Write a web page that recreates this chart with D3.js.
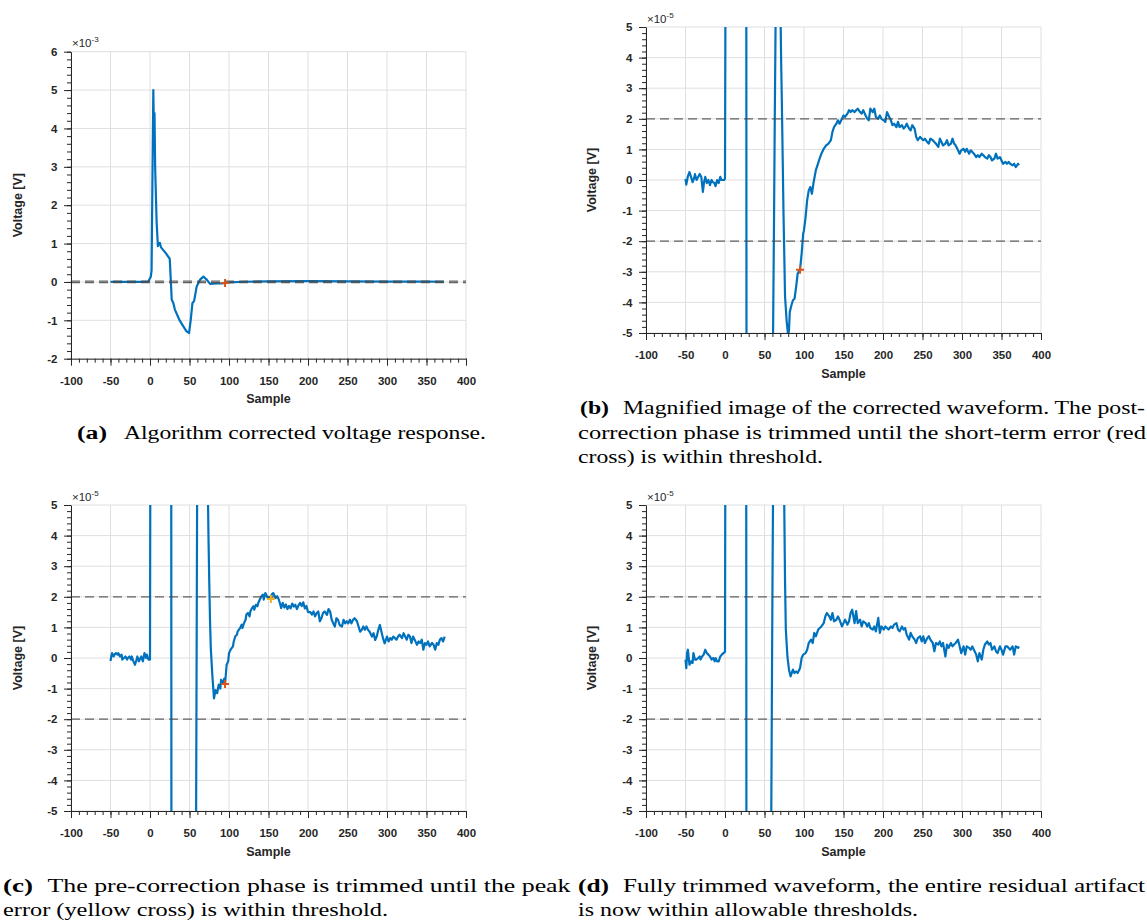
<!DOCTYPE html>
<html><head><meta charset="utf-8">
<script src="https://cdn.jsdelivr.net/npm/d3@7"></script>
<style>
html,body{margin:0;padding:0;background:#fff;}
svg{display:block;}
</style></head><body>
<svg id="chart" width="1147" height="921"></svg>
<script>
// ---------------- DATA ----------------
const xTicks = [-100,-50,0,50,100,150,200,250,300,350,400];
const yTicksA = [-2,-1,0,1,2,3,4,5,6];          // x 1e-3 V
const yTicksB = [-5,-4,-3,-2,-1,0,1,2,3,4,5];   // x 1e-5 V
const thresholdA = [-0.02, 0.02];               // x 1e-3 V
const thresholdB = [-2, 2];                     // x 1e-5 V

// (a) corrected voltage response, units 1e-3 V
const waveA = [[-50,0],[-40,0],[-30,0],[-20,0],[-10,0],[-2,0.01],[0,0.1],[1,0.13],[2,0.3],[3,2.5],[4.2,5.0],[5,3.9],[5.7,4.4],[6.5,3.0],[8.4,1.55],[10,0.93],[11,1.0],[12.5,1.02],[14,0.9],[16,0.85],[20,0.75],[25,0.6],[27.5,-0.46],[29.5,-0.55],[31.5,-0.72],[37,-0.98],[42,-1.15],[46,-1.28],[49.5,-1.33],[51.6,-0.98],[53.7,-0.55],[55.8,-0.5],[59.2,-0.11],[63.4,0.06],[67.6,0.14],[71.8,0.06],[76,-0.05],[84,-0.04],[90,-0.04],[95,-0.03],[100,-0.01],[120,0.005],[150,0.015],[200,0.02],[250,0.015],[300,0.01],[350,0.008],[372,0.005]];
const crossA = [95, -0.0293];

// (b) magnified corrected waveform, units 1e-5 V
const waveB = [[-50,0.04],[-49,-0.15],[-47,0.12],[-45,0.26],[-43,0.1],[-41,-0.07],[-39,0.07],[-38,0.19],[-36,0],[-34,0.1],[-32,0.2],[-30,0.1],[-28,-0.39],[-26.5,-0.07],[-25,0.1],[-23,-0.1],[-21,0],[-19,-0.17],[-17,0],[-15.5,-0.07],[-13.5,-0.1],[-12,-0.2],[-10,0],[-8,-0.1],[-6,0.1],[-4.5,0],[-2.5,0],[-1,0],[0,0.05],
 [1,10],[3,250],[4,500],[5,390],[6,440],[8,155],[10,93],[12,102],[14,90],[16,85],[20,75],[25,62],[26,58],[28,-48],[30,-57],[32,-72],[37,-98],[42,-115],[46,-128],[49.5,-133],[52,-98],[54,-55],[56,-50],[58,-25],[60,-8],[61,-4.5],[62,-1.5],[63,2],[64,5],[66,9],[68,10],[70,6],[71,4],[72,2.5],[74,-1],[76,-3.8],[78,-4.6],[80,-5.1],[81,-4.9],
 [82,-4.31],[84,-4.1],[86,-3.93],[88,-3.88],[90,-3.5],[92,-3.06],[95,-2.93],[97,-2.41],[99,-1.75],[100,-1.64],[102,-1.21],[104,-0.66],[106,-0.34],[108,-0.23],[110,-0.45],[112,-0.1],[115,0.32],[117,0.48],[119,0.64],[122,0.86],[125,1.02],[128,1.13],[131,1.19],[134,1.3],[136,1.57],[138,1.73],[141,1.84],[143,1.95],[145,1.84],[148,2.0],[150,2.11],[152,2.06],[155,2.17],[157,2.28],[159,2.22],[161,2.28],[164,2.22],[166,2.28],[168,2.33],[171,2.22],[173,2.17],[175,2.28],[178,2.11],[180,2.0],[182,1.95],[184,2.33],[187,2.22],[189,2.33],[191,2.06],[194,2.0],[196,2.11],[198,2.0],[201,1.95],[203,1.9],[205,2.22],[207,2.11],[210,1.95],[212,1.79],[214,1.84],[217,1.73],[219,1.9],[221,1.73],[224,1.79],[226,1.68],[228,1.73],[230,1.84],[233,1.68],[235,1.62],[237,1.79],[240,1.68],[242,1.41],[244,1.3],[247,1.41],[249,1.35],[251,1.3],[253,1.35],[256,1.24],[258,1.19],[260,1.35],[263,1.3],[265,1.24],[267,1.19],[270,1.08],[272,1.35],[274,1.24],[276,1.13],[279,1.19],[281,1.3],[283,1.13],[286,1.19],[288,1.35],[290,1.19],[292,1.13],[295,0.97],[297,0.86],[299,0.97],[302,1.02],[304,0.92],[306,1.02],[309,0.86],[311,0.97],[313,0.92],[315,0.86],[318,0.75],[320,0.81],[322,0.75],[325,0.86],[327,0.81],[329,0.75],[332,0.7],[334,0.81],[336,0.75],[338,0.64],[341,0.7],[343,0.86],[345,0.7],[348,0.75],[350,0.64],[352,0.53],[355,0.59],[357,0.53],[359,0.59],[361,0.53],[364,0.48],[366,0.53],[368,0.42],[371,0.53],[372,0.48]];
const crossB = [95, -2.93];

// (c) pre-correction trimmed, units 1e-5 V
const waveC = [[-50,-0.1],[-49,0.05],[-48,0.16],[-46,0.05],[-45,0.11],[-43,0.16],[-41,0.11],[-40,0.16],[-38,0.05],[-36,0.11],[-35,-0.05],[-33,0],[-31,0.05],[-29,-0.05],[-28,0],[-26,0.05],[-24,-0.05],[-23,0.05],[-21,-0.11],[-19,-0.22],[-17,-0.05],[-16,0.05],[-14,-0.11],[-12,0],[-11,0.05],[-9,-0.11],[-7,0.16],[-5,0],[-4,0.11],[-2,-0.05],[0,-0.05],
 [1,15],[3,250],[4,500],[5,390],[6,440],[8,155],[10,93],[14,90],[20,75],[26,60],[28,-60],[37,-98],[49.5,-133],[54,-55],[57,-20],[58,-8],[59,0],[60,8],[62,14],[66,16],[70,12],[73,6],[74,4],[75,2.5],[76,1.2],[77,0.3],[79,-0.6],
 [81,-1.32],[83,-1.05],[85,-1.15],[87,-0.87],[89,-1.0],[90,-0.71],[92,-0.84],[94,-0.67],[95,-0.85],[97,-0.22],[99,-0.11],[100,0.16],[102,0.27],[105,0.38],[106,0.54],[108,0.71],[110,0.76],[111,0.87],[114,0.98],[116,1.09],[117,0.98],[119,1.14],[121,1.25],[122,1.42],[124,1.47],[126,1.36],[127,1.52],[129,1.63],[131,1.69],[132,1.58],[134,1.74],[136,1.69],[137,1.8],[139,1.91],[141,2.02],[143,2.07],[144,1.91],[146,2.12],[148,2.02],[149,1.96],[151,2.0],[153,1.93],[154,2.07],[156,2.12],[158,2.02],[159,1.96],[161,2.02],[163,1.91],[165,1.74],[166,1.63],[168,1.8],[170,1.65],[172,1.75],[174,1.6],[176,1.7],[178,1.62],[180,1.78],[182,1.68],[184,1.74],[186,1.6],[188,1.72],[190,1.8],[192,1.7],[194,1.82],[196,1.62],[198,1.7],[200,1.5],[203,1.5],[205,1.42],[207,1.52],[209,1.36],[211,1.47],[213,1.52],[215,1.2],[217,1.3],[219,1.47],[221,1.52],[224,1.41],[226,1.6],[228,1.52],[230,1.25],[232,1.13],[234,1.03],[236,1.3],[238,1.25],[240,1.08],[243,1.03],[245,1.25],[247,1.13],[249,1.2],[251,1.13],[253,1.25],[255,1.13],[257,1.25],[259,1.3],[262,1.2],[264,1.03],[266,0.86],[268,0.92],[270,1.03],[272,0.92],[274,1.03],[276,0.92],[278,0.86],[281,0.7],[283,0.81],[285,0.59],[287,0.7],[289,0.92],[291,1.08],[293,0.86],[295,0.64],[297,0.48],[300,0.7],[302,0.54],[304,0.65],[306,0.6],[308,0.7],[310,0.65],[312,0.6],[314,0.7],[316,0.76],[319,0.65],[321,0.81],[323,0.7],[325,0.6],[327,0.76],[329,0.7],[331,0.49],[333,0.7],[335,0.6],[338,0.43],[340,0.54],[342,0.49],[344,0.6],[346,0.27],[348,0.49],[350,0.43],[352,0.54],[354,0.38],[357,0.49],[359,0.43],[361,0.27],[363,0.49],[365,0.43],[367,0.6],[369,0.65],[371,0.54],[373,0.7]];
const crossC = [95, -0.85];
const peakCrossC = [153, 1.93];

// (d) fully trimmed waveform, units 1e-5 V
const waveD = [[-50,-0.05],[-49,-0.33],[-48,0.16],[-47,0.27],[-45,-0.22],[-43,-0.11],[-41,-0.16],[-40,0.16],[-38,-0.05],[-36,-0.05],[-34,0],[-32,0.05],[-31,-0.05],[-29,0.05],[-27,0.11],[-25,0.27],[-23,0.16],[-21,0.11],[-19,0.05],[-17,-0.05],[-15,0],[-13,-0.11],[-12,0],[-10,-0.11],[-8,-0.11],[-6,0.05],[-4,0.11],[-2,0.16],[0,0.2],
 [1,15],[3,250],[4,500],[5,390],[6,440],[8,155],[10,93],[14,90],[20,75],[26,55],[28,-55],[37,-98],[49.5,-133],[54,-55],[57,-30],[58,-8],[59,-3],[60,2],[61,6],[63,12],[70,14],[73,9],[74,7],[75,5],[76,2.5],[77,0.93],[79,0.05],
 [81,-0.38],[83,-0.6],[86,-0.38],[88,-0.49],[90,-0.44],[92,-0.49],[95,-0.33],[97,0],[99,0.11],[102,0.16],[104,0.27],[106,0.49],[109,0.6],[111,0.49],[113,0.82],[115,0.71],[118,0.93],[120,0.98],[122,1.03],[125,1.14],[127,1.36],[129,1.47],[132,1.36],[134,1.25],[136,1.47],[138,1.2],[141,1.25],[143,1.36],[145,1.25],[148,1.03],[150,1.14],[152,1.25],[155,1.09],[157,1.2],[159,1.47],[161,1.58],[164,1.14],[166,1.53],[168,1.14],[171,1.25],[173,1.03],[175,1.2],[178,1.14],[180,1.03],[182,1.14],[184,0.98],[187,0.93],[189,1.03],[191,0.87],[194,1.31],[196,0.82],[198,1.03],[201,0.93],[203,1.03],[205,0.98],[207,0.93],[210,1.03],[212,0.98],[214,1.09],[217,1.14],[219,0.93],[221,0.87],[224,1.03],[226,0.93],[228,0.98],[230,0.76],[233,0.6],[235,0.82],[237,0.71],[240,0.6],[242,0.49],[244,0.65],[247,0.71],[249,0.54],[251,0.71],[253,0.49],[256,0.65],[258,0.71],[260,0.6],[263,0.49],[265,0.22],[267,0.49],[270,0.44],[272,0.54],[274,0.38],[276,0.49],[279,0.05],[281,0.44],[283,0.33],[286,0.49],[288,0.38],[290,0.44],[292,0.49],[295,0.6],[297,0.38],[299,0.16],[302,0.38],[304,0.11],[306,0.38],[309,0.33],[311,0.27],[313,0.38],[315,0.27],[318,0.11],[320,-0.11],[322,0.16],[325,-0.05],[327,0.27],[329,0.44],[332,0.54],[334,0.44],[336,0.49],[338,0.27],[341,0.38],[343,0.22],[345,0.16],[348,0.38],[350,0.27],[352,0.11],[355,0.38],[357,0.38],[359,0.33],[361,0.27],[364,0.38],[366,0.11],[368,0.38],[371,0.33],[372,0.38]];

const captionA = ["(a)", "Algorithm corrected voltage response."];
const captionB = ["(b)", "Magnified image of the corrected waveform. The post-", "correction phase is trimmed until the short-term error (red", "cross) is within threshold."];
const captionC = ["(c)", "The pre-correction phase is trimmed until the peak", "error (yellow cross) is within threshold."];
const captionD = ["(d)", "Fully trimmed waveform, the entire residual artifact", "is now within allowable thresholds."];

// ---------------- DRAW ----------------
const svg = d3.select("#chart");
const BLUE = "#0072BD", RED = "#D95319", YELLOW = "#EDB120", AX = "#262626";
const SANS = '"Liberation Sans", Arial, Helvetica, sans-serif';
const SERIF = '"Liberation Serif", "Times New Roman", serif';

function panel(cfg){
  const g = svg.append("g");
  const x = d3.scaleLinear().domain([-100,400]).range([cfg.l, cfg.r]);
  const y = d3.scaleLinear().domain([cfg.yTicks[0], cfg.yTicks[cfg.yTicks.length-1]]).range([cfg.b, cfg.t]);
  const yMinor = d3.range(cfg.yTicks[0], cfg.yTicks[cfg.yTicks.length-1]+1e-9, 0.2).map(v=>+v.toFixed(2));
  const xMinor = d3.range(-100, 401, 10);

  // grid
  g.append("g").selectAll("line").data(xTicks).join("line")
    .attr("x1",d=>x(d)).attr("x2",d=>x(d)).attr("y1",cfg.t).attr("y2",cfg.b)
    .attr("stroke","#dfdfdf").attr("stroke-width",1);
  g.append("g").selectAll("line").data(cfg.yTicks).join("line")
    .attr("x1",cfg.l).attr("x2",cfg.r).attr("y1",d=>y(d)).attr("y2",d=>y(d))
    .attr("stroke","#dfdfdf").attr("stroke-width",1);

  // clip
  const cid = "clip"+cfg.name;
  svg.append("defs").append("clipPath").attr("id",cid).append("rect")
    .attr("x",cfg.l).attr("y",cfg.t).attr("width",cfg.r-cfg.l).attr("height",cfg.b-cfg.t);

  const line = d3.line().x(d=>x(d[0])).y(d=>y(d[1]));
  g.append("path").datum(cfg.wave).attr("d",line)
    .attr("fill","none").attr("stroke",BLUE).attr("stroke-width",2.2)
    .attr("stroke-linejoin","round").attr("clip-path",`url(#${cid})`);

  // thresholds
  g.append("g").selectAll("line").data(cfg.thr).join("line")
    .attr("x1",cfg.l).attr("x2",cfg.r).attr("y1",d=>y(d)).attr("y2",d=>y(d))
    .attr("stroke","#4a4a4a").attr("stroke-width",1.2).attr("stroke-dasharray","9,5").attr("opacity",0.85);

  // markers
  (cfg.marks||[]).forEach(m=>{
    const cx = x(m.p[0]), cy = y(m.p[1]), s = 4;
    g.append("path").attr("d",`M${cx-s},${cy}H${cx+s}M${cx},${cy-s}V${cy+s}`)
      .attr("stroke",m.c).attr("stroke-width",2).attr("fill","none");
  });

  // axes
  const gx = g.append("g").attr("transform",`translate(0,${cfg.b})`);
  gx.call(d3.axisBottom(x).tickValues(xMinor).tickSize(4).tickSizeOuter(0).tickFormat(""));
  gx.select(".domain").remove();
  const gx2 = g.append("g").attr("transform",`translate(0,${cfg.b})`);
  gx2.call(d3.axisBottom(x).tickValues(xTicks).tickSize(7).tickSizeOuter(0).tickPadding(11).tickFormat(d=>String(d)));
  const gy = g.append("g").attr("transform",`translate(${cfg.l},0)`);
  gy.call(d3.axisLeft(y).tickValues(yMinor).tickSize(4).tickSizeOuter(0).tickFormat(""));
  gy.select(".domain").remove();
  const gy2 = g.append("g").attr("transform",`translate(${cfg.l},0)`);
  gy2.call(d3.axisLeft(y).tickValues(cfg.yTicks).tickSize(7).tickSizeOuter(0).tickPadding(6.5).tickFormat(d=>String(d)));
  g.selectAll(".domain").attr("stroke",AX).attr("stroke-width",1);
  g.selectAll(".tick line").attr("stroke",AX).attr("stroke-width",1);
  g.selectAll(".tick text")
    .style("font-family",SANS).style("font-weight","bold").style("font-size","11.5px").style("fill",AX);

  // labels
  g.append("text").attr("text-anchor","middle")
    .style("font-family",SANS).style("font-weight","bold").style("font-size","12.5px").style("fill",AX)
    .attr("x",(cfg.l+cfg.r)/2).attr("y",cfg.b+44.5).text("Sample");
  g.append("text").attr("text-anchor","middle")
    .style("font-family",SANS).style("font-weight","bold").style("font-size","12.5px").style("fill",AX)
    .attr("transform",`translate(${cfg.ylx},${(cfg.t+cfg.b)/2}) rotate(-90)`).attr("dy","0.35em").text("Voltage [V]");
  const ex = g.append("text").attr("x",cfg.l+1).attr("y",cfg.t-4.4)
    .style("font-family",SANS).style("font-size","11.5px").style("fill",AX);
  ex.append("tspan").text("×10");
  ex.append("tspan").style("font-size","8px").attr("dy",-5).text(cfg.exp);
}

panel({name:"A", l:71, r:466, t:51.7, b:358.7, yTicks:yTicksA, wave:waveA, thr:thresholdA, exp:"-3", ylx:18,
       marks:[{p:crossA,c:RED}]});
panel({name:"B", l:646, r:1041, t:27, b:333, yTicks:yTicksB, wave:waveB, thr:thresholdB, exp:"-5", ylx:592,
       marks:[{p:crossB,c:RED}]});
panel({name:"C", l:71, r:466, t:505, b:811, yTicks:yTicksB, wave:waveC, thr:thresholdB, exp:"-5", ylx:18,
       marks:[{p:crossC,c:RED},{p:peakCrossC,c:YELLOW}]});
panel({name:"D", l:646, r:1041, t:505, b:811, yTicks:yTicksB, wave:waveD, thr:thresholdB, exp:"-5", ylx:592,
       marks:[]});

// captions
function cap(x, y, str, w, bold){
  const t = svg.append("text").attr("x",x).attr("y",y)
    .style("font-family",SERIF).style("font-size","18px").style("fill","#000")
    .attr("textLength",w).attr("lengthAdjust","spacingAndGlyphs").text(str);
  if(bold) t.style("font-weight","bold");
}
cap(77, 438.5, captionA[0], 30, true);
cap(124, 438.5, captionA[1], 362, false);

cap(580, 414, captionB[0], 29, true);
cap(623, 414, captionB[1], 522, false);
cap(578, 438.5, captionB[2], 568, false);
cap(578, 462.5, captionB[3], 245, false);

cap(3, 892, captionC[0], 30, true);
cap(47.5, 892, captionC[1], 523, false);
cap(3, 916, captionC[2], 385, false);

cap(578, 892, captionD[0], 31, true);
cap(623, 892, captionD[1], 522, false);
cap(578, 916, captionD[2], 340, false);
</script>
</body></html>
